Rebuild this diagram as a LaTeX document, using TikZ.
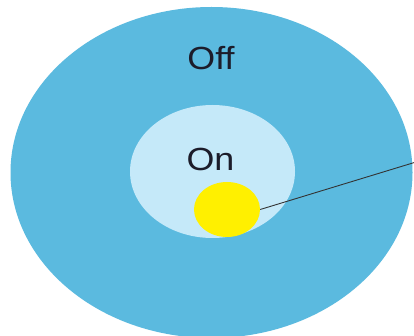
\documentclass[tikz,border=0pt]{standalone}
\usepackage{fontspec}
\setmainfont{Liberation Sans}
\usetikzlibrary{shapes.geometric}
\definecolor{outerblue}{HTML}{5BBADF}
\definecolor{innerblue}{HTML}{C5E9F9}
\definecolor{sunyellow}{HTML}{FFF000}
\definecolor{labelink}{HTML}{1C1C2A}
\tikzset{
  blob/.style={ellipse, draw=none, inner sep=0pt},
  lbl/.style={text=labelink, font=\fontsize{32}{36}\selectfont, xscale=1.12, anchor=base, inner sep=0pt},
  leader/.style={draw=black!80, line width=0.9pt}
}
\begin{document}
\begin{tikzpicture}[x=1pt,y=-1pt]
\useasboundingbox (0,0) rectangle (414,336);
\clip (0,0) rectangle (414,336);
\fill[white] (0,0) rectangle (414,336);
\node[blob, fill=outerblue, minimum width=402pt, minimum height=331pt] (outer) at (211.5,172.5) {};
\node[blob, fill=innerblue, minimum width=165pt, minimum height=133pt] (inner) at (212.5,171.5) {};
\node[blob, fill=sunyellow, minimum width=66pt, minimum height=55pt] (sun) at (227,209.5) {};
\node[lbl] (off) at (211,70) {Off};
\node[lbl] (on) at (210.5,171) {On};
\coordinate (lineend) at (416,162);
\draw[leader] (sun.east) -- (lineend);
\end{tikzpicture}
\end{document}
